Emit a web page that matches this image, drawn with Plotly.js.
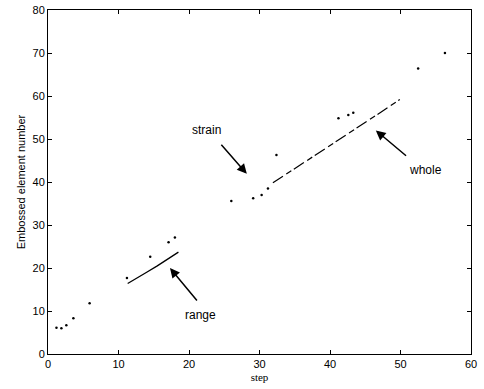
<!DOCTYPE html>
<html>
<head>
<meta charset="utf-8">
<script src="https://cdn.plot.ly/plotly-3.0.1.min.js"></script>
<style>html,body{margin:0;padding:0;background:#fff;}#chart{width:484px;height:389px;}</style>
</head>
<body>
<div id="chart"></div>
<script>
// Scattered detected points
const dotsX = [1.2, 1.9, 2.6, 3.6, 5.9, 11.2, 14.5, 17.1, 18.0, 26.0, 29.1, 30.3, 31.2, 32.4, 41.2, 42.6, 43.3, 52.5, 56.3];
const dotsY = [6.1, 6.0, 6.7, 8.3, 11.8, 17.7, 22.6, 26.0, 27.1, 35.6, 36.2, 37.0, 38.5, 46.3, 54.8, 55.6, 56.1, 66.4, 70.0];
// "range" segment
const rangeX = [11.3, 12.5, 14.0, 15.5, 17.0, 18.5];
const rangeY = [16.4, 17.5, 19.0, 20.5, 22.0, 23.7];
// "whole" segment
const wholeX = [31.9, 35.0, 38.0, 41.0, 44.7, 47.0, 49.9];
const wholeY = [39.8, 43.1, 46.4, 49.6, 53.6, 56.0, 59.2];
// axis ticks
const xTicks = [0, 10, 20, 30, 40, 50, 60];
const yTicks = [0, 10, 20, 30, 40, 50, 60, 70, 80];

const traces = [
  {x: dotsX, y: dotsY, mode: 'markers', type: 'scatter',
   marker: {color: '#000', size: 2.5}, hoverinfo: 'none'},
  {x: rangeX, y: rangeY, mode: 'lines', type: 'scatter',
   line: {color: '#000', width: 1.3}, hoverinfo: 'none'},
  {x: wholeX, y: wholeY, mode: 'lines', type: 'scatter',
   line: {color: '#000', width: 1.2, dash: '12px,4px,6px,3px'}, hoverinfo: 'none'}
];

const font = {family: 'Liberation Sans, Arial, sans-serif', size: 12, color: '#000'};
const axisCommon = {
  showgrid: false, zeroline: false, showline: true, linecolor: '#000', linewidth: 1,
  mirror: 'ticks', ticks: 'inside', ticklen: 4, tickcolor: '#000',
  tickfont: {family: 'Liberation Sans, Arial, sans-serif', size: 11, color: '#000'}
};

const arrow = (text, tx, ty, hx, hy, lx, ly) => ({
  x: hx, y: hy, ax: tx, ay: ty, axref: 'x', ayref: 'y', xref: 'x', yref: 'y',
  text: '', showarrow: true, arrowhead: 2, arrowsize: 1.3, arrowwidth: 1.5, arrowcolor: '#000'
});

const layout = {
  width: 484, height: 389,
  margin: {l: 48, r: 13, t: 10, b: 35},
  paper_bgcolor: '#fff', plot_bgcolor: '#fff',
  showlegend: false,
  font: font,
  xaxis: Object.assign({}, axisCommon, {range: [0, 60], tickvals: xTicks,
    title: {text: 'step', font: {family: 'Liberation Serif, serif', size: 11, color: '#000'}, standoff: 4}}),
  yaxis: Object.assign({}, axisCommon, {range: [0, 80], tickvals: yTicks,
    title: {text: 'Embossed element number', font: {family: 'Liberation Sans, Arial, sans-serif', size: 11, color: '#000'}, standoff: 4}}),
  annotations: [
    arrow('strain', 24.4, 49.0, 28.2, 41.9),
    arrow('whole', 51.0, 45.8, 46.5, 52.0),
    arrow('range', 21.3, 12.1, 17.3, 20.0),
    {x: 22.5, y: 52.2, xref: 'x', yref: 'y', text: 'strain', showarrow: false, font: {family: 'Liberation Sans, Arial, sans-serif', size: 12, color: '#000'}},
    {x: 53.6, y: 42.8, xref: 'x', yref: 'y', text: 'whole', showarrow: false, font: {family: 'Liberation Sans, Arial, sans-serif', size: 12, color: '#000'}},
    {x: 21.6, y: 9.0, xref: 'x', yref: 'y', text: 'range', showarrow: false, font: {family: 'Liberation Sans, Arial, sans-serif', size: 12, color: '#000'}}
  ]
};

Plotly.newPlot('chart', traces, layout, {staticPlot: true, displayModeBar: false});
</script>
</body>
</html>
